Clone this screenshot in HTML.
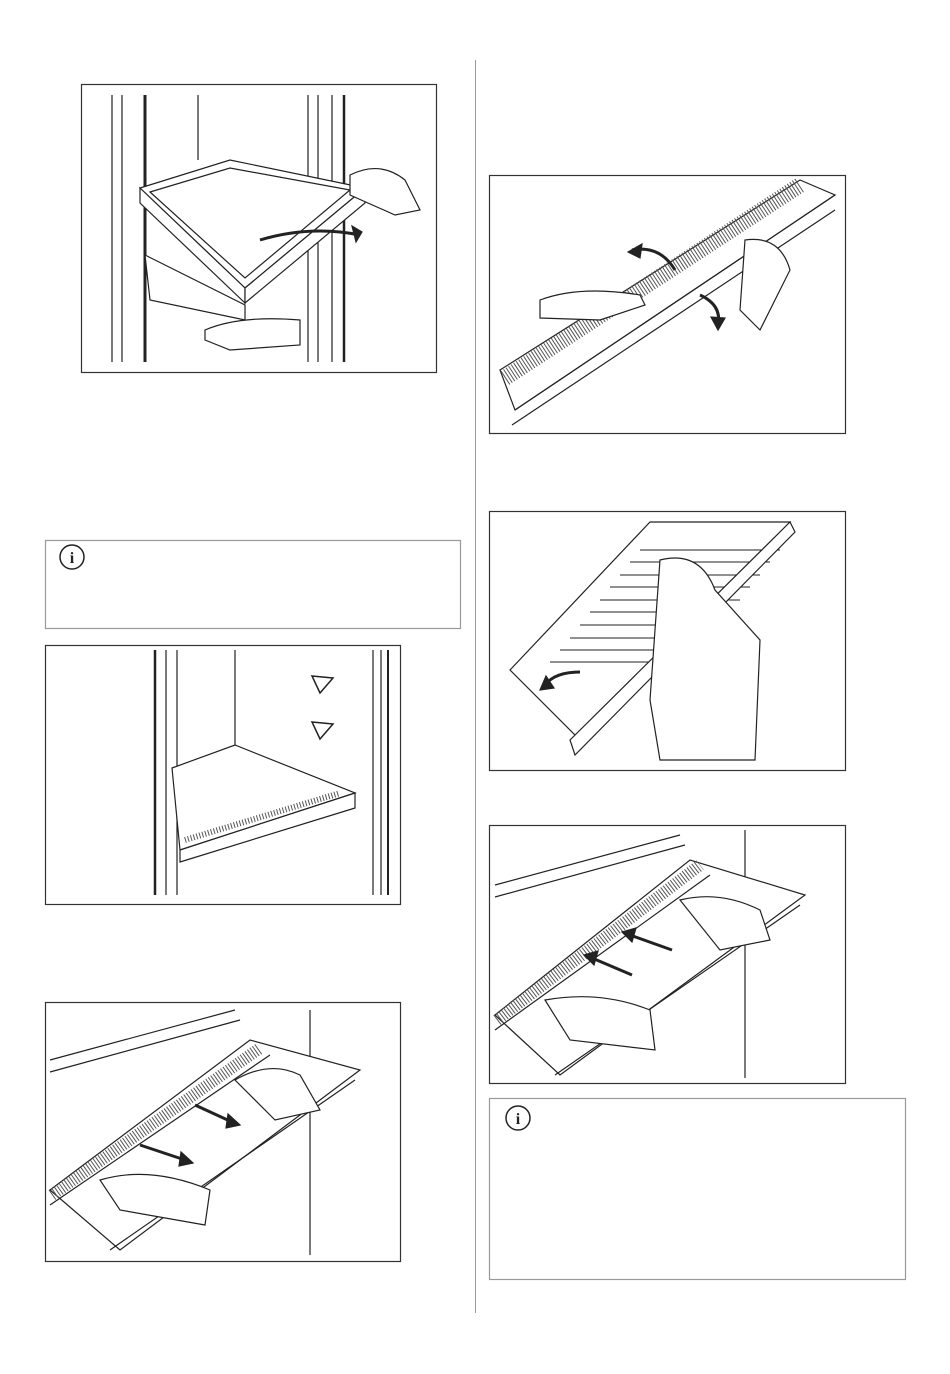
<!DOCTYPE html>
<html><head><meta charset="utf-8"><style>
body{margin:0;background:#fff;width:950px;height:1374px;overflow:hidden;font-family:"Liberation Sans",sans-serif}
svg{position:absolute;left:0;top:0}
</style></head><body>
<svg width="950" height="1374" viewBox="0 0 950 1374" fill="none" stroke="#222" stroke-width="1.2">
<!-- column divider -->
<line x1="475.5" y1="60" x2="475.5" y2="1313" stroke="#999" stroke-width="1"/>

<!-- Figure 1 -->
<rect x="81.5" y="84.5" width="355" height="288" stroke="#333"/>
<line x1="112" y1="95" x2="112" y2="362"/><line x1="122" y1="95" x2="122" y2="362"/>
<line x1="145" y1="95" x2="145" y2="362" stroke-width="3"/>
<line x1="198" y1="95" x2="198" y2="160"/>
<line x1="308" y1="95" x2="308" y2="362"/><line x1="318" y1="95" x2="318" y2="362"/>
<line x1="332" y1="95" x2="332" y2="362"/><line x1="344" y1="95" x2="344" y2="362" stroke-width="2.5"/>
<polygon points="145,255 245,305 245,320 150,300" fill="#fff"/>
<polygon points="140,188 230,160 365,188 245,288" fill="#fff"/>
<polygon points="150,192 230,168 350,190 245,278"/>
<polygon points="140,188 245,288 245,303 140,203" fill="#fff"/>
<polygon points="245,288 365,188 365,203 245,303" fill="#fff"/>
<path d="M260 240 Q310 225 360 235" stroke-width="3"/>
<polygon points="362,232 352,226 356,242" fill="#222"/>
<path d="M350 175 Q380 160 405 180 L420 210 L395 215 L350 195 Z" fill="#fff"/>
<path d="M205 330 Q240 315 300 320 L300 345 L230 350 L205 340 Z" fill="#fff"/>

<!-- info box 1 -->
<rect x="45.5" y="540.5" width="415" height="88" stroke="#999"/>
<circle cx="72" cy="557" r="12" stroke-width="1.5"/>
<text x="72" y="563" font-size="16" font-weight="bold" text-anchor="middle" fill="#222" stroke="none" font-family="Liberation Serif,serif">i</text>

<!-- Figure 2 -->
<rect x="45.5" y="645.5" width="355" height="259" stroke="#333"/>
<line x1="155" y1="650" x2="155" y2="895" stroke-width="2.5"/><line x1="166" y1="650" x2="166" y2="895"/>
<line x1="177" y1="650" x2="177" y2="895"/>
<line x1="235" y1="650" x2="235" y2="745"/>
<line x1="373" y1="650" x2="373" y2="895"/><line x1="381" y1="650" x2="381" y2="895"/><line x1="388" y1="650" x2="388" y2="895" stroke-width="2"/>
<polygon points="312,676 333,678 320,693" stroke-width="1.5"/>
<polygon points="312,722 333,724 320,739" stroke-width="1.5"/>
<polygon points="172,768 235,745 355,793 180,850" fill="#fff"/>
<polygon points="180,850 355,793 355,808 180,862" fill="#fff"/>
<path d="M185 840 L340 793" stroke="#555" stroke-width="6" stroke-dasharray="1 2"/>

<!-- Figure 3 -->
<rect x="45.5" y="1002.5" width="355" height="259" stroke="#333"/>
<line x1="50" y1="1060" x2="235" y2="1010"/><line x1="50" y1="1072" x2="240" y2="1020"/>
<line x1="310" y1="1010" x2="310" y2="1255"/>
<polygon points="50,1190 250,1040 360,1070 120,1250" fill="#fff"/>
<path d="M52 1195 L260 1048" stroke="#555" stroke-width="12" stroke-dasharray="1 2"/>
<line x1="50" y1="1205" x2="270" y2="1055"/>
<line x1="110" y1="1250" x2="355" y2="1080"/>
<path d="M235 1080 Q270 1060 300 1075 L320 1110 L275 1120 Z" fill="#fff"/>
<path d="M100 1180 Q150 1165 210 1190 L205 1225 L120 1210 Z" fill="#fff"/>
<line x1="195" y1="1105" x2="232" y2="1122" stroke-width="3"/><polygon points="240,1125 228,1114 226,1128" fill="#222"/>
<line x1="140" y1="1145" x2="185" y2="1160" stroke-width="3"/><polygon points="193,1163 181,1152 179,1166" fill="#222"/>

<!-- Figure 4 -->
<rect x="489.5" y="175.5" width="356" height="258" stroke="#333"/>
<polygon points="500,370 800,180 835,195 515,410" fill="#fff"/>
<path d="M505 378 L800 185" stroke="#555" stroke-width="16" stroke-dasharray="1 2"/>
<line x1="515" y1="410" x2="835" y2="195"/><line x1="512" y1="425" x2="835" y2="210"/>
<path d="M540 300 Q580 285 640 295 L645 305 L600 320 L540 318 Z" fill="#fff"/>
<path d="M745 240 Q780 235 790 270 L760 330 L740 310 Z" fill="#fff"/>
<path d="M675 270 Q660 245 632 250" stroke-width="3"/><polygon points="628,252 642,244 640,258" fill="#222"/>
<path d="M700 295 Q722 305 718 325" stroke-width="3"/><polygon points="718,330 711,317 725,318" fill="#222"/>

<!-- Figure 5 -->
<rect x="489.5" y="511.5" width="356" height="259" stroke="#333"/>
<polygon points="510,670 650,522 790,522 580,740" fill="#fff"/>
<g stroke-width="1">
<line x1="600" y1="600" x2="740" y2="600"/><line x1="590" y1="612" x2="730" y2="612"/>
<line x1="580" y1="625" x2="720" y2="625"/><line x1="570" y1="638" x2="710" y2="638"/>
<line x1="560" y1="650" x2="700" y2="650"/><line x1="620" y1="575" x2="760" y2="575"/>
<line x1="640" y1="550" x2="780" y2="550"/><line x1="630" y1="562" x2="770" y2="562"/>
<line x1="610" y1="587" x2="750" y2="587"/><line x1="550" y1="662" x2="690" y2="662"/>
</g>
<polygon points="570,740 790,522 795,532 575,755" fill="#fff"/>
<path d="M660 560 Q700 550 715 590 L760 640 L755 760 L660 760 L650 700 Z" fill="#fff"/>
<path d="M580 672 Q555 672 545 685" stroke-width="3"/><polygon points="540,690 546,676 554,688" fill="#222"/>

<!-- Figure 6 -->
<rect x="489.5" y="825.5" width="356" height="258" stroke="#333"/>
<line x1="495" y1="885" x2="680" y2="835"/><line x1="495" y1="897" x2="685" y2="845"/>
<line x1="745" y1="830" x2="745" y2="1078"/>
<polygon points="495,1015 690,860 805,895 560,1075" fill="#fff"/>
<path d="M497 1020 L700 865" stroke="#555" stroke-width="12" stroke-dasharray="1 2"/>
<line x1="495" y1="1030" x2="710" y2="875"/>
<line x1="555" y1="1075" x2="800" y2="905"/>
<path d="M680 900 Q720 890 760 910 L770 940 L720 950 Z" fill="#fff"/>
<path d="M545 1000 Q600 990 650 1010 L655 1050 L570 1040 Z" fill="#fff"/>
<line x1="672" y1="950" x2="630" y2="935" stroke-width="3"/><polygon points="622,932 636,928 632,942" fill="#222"/>
<line x1="632" y1="975" x2="592" y2="958" stroke-width="3"/><polygon points="584,955 598,951 594,965" fill="#222"/>

<!-- info box 2 -->
<rect x="489.5" y="1098.5" width="416" height="181" stroke="#999"/>
<circle cx="518" cy="1118" r="12" stroke-width="1.5"/>
<text x="518" y="1124" font-size="16" font-weight="bold" text-anchor="middle" fill="#222" stroke="none" font-family="Liberation Serif,serif">i</text>
</svg>
</body></html>
